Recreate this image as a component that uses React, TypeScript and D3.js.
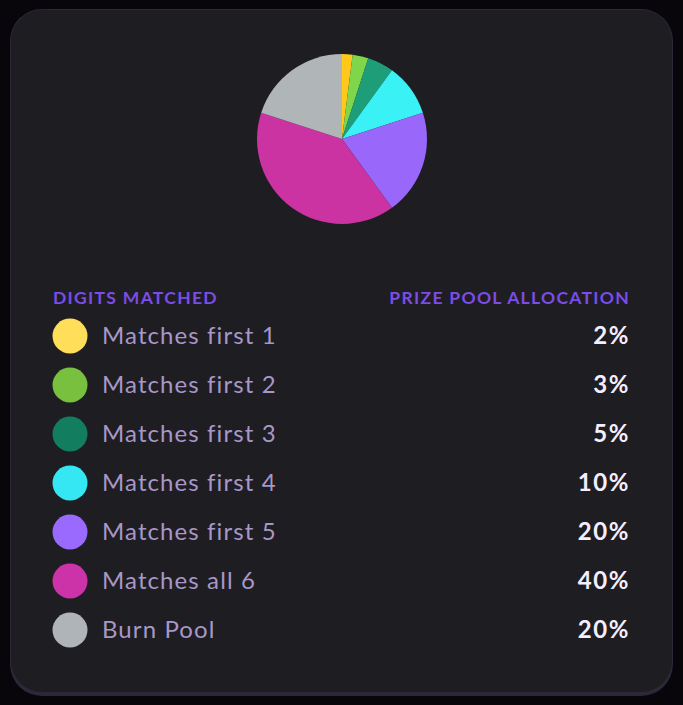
import * as d3 from 'd3';
import React, { useEffect, useRef } from 'react';

const labels = ['Matches first 1', 'Matches first 2', 'Matches first 3', 'Matches first 4', 'Matches first 5', 'Matches all 6', 'Burn Pool'];
const shares = [2, 3, 5, 10, 20, 40, 20];
const sliceColors = ['#FFC81A', '#7FD64B', '#1E9E78', '#3AF2F5', '#9A67FB', '#CB33A3', '#B0B5B8'];
const dotColors = ['#FFDF5A', '#79C03F', '#127D5F', '#35E6F3', '#9A6AFF', '#CC33A8', '#AEB4B7'];
const headers = ['DIGITS MATCHED', 'PRIZE POOL ALLOCATION'];

export default () => {
    const ref = useRef<any>();

    useEffect(() => {
        const width = 683;
        const height = 705;
        const font = 'Lato, "Noto Sans", sans-serif';

        const svg = d3.select<any, any>(ref.current)
            .attr('width', width)
            .attr('height', height)
            .style('position', 'absolute')
            .style('left', 0)
            .style('top', 0)
            .style('background', '#08060B');
        svg.selectAll('*').remove();

        // card, with a slightly heavier bottom edge
        svg.append('rect')
            .attr('x', 10).attr('y', 9).attr('width', 663).attr('height', 687)
            .attr('rx', 32).attr('fill', '#2B2838');
        svg.append('rect')
            .attr('x', 11).attr('y', 10).attr('width', 661).attr('height', 682)
            .attr('rx', 31).attr('fill', '#1E1D22');

        // pie
        const pie = d3.pie<number>().sort(null).value((d) => d);
        const arc = d3.arc<d3.PieArcDatum<number>>().innerRadius(0).outerRadius(85);
        svg.append('g')
            .attr('transform', 'translate(342,139)')
            .selectAll('path')
            .data(pie(shares))
            .join('path')
            .attr('d', arc)
            .attr('fill', (d, i) => sliceColors[i]);

        // headers
        svg.append('text')
            .attr('x', 53).attr('y', 304)
            .attr('font-family', font).attr('font-weight', 700).attr('font-size', 17.5)
            .attr('letter-spacing', 1.3)
            .attr('fill', '#7B4CE6')
            .text(headers[0]);
        svg.append('text')
            .attr('x', 630).attr('y', 304).attr('text-anchor', 'end')
            .attr('font-family', font).attr('font-weight', 700).attr('font-size', 17.5)
            .attr('letter-spacing', 1.3)
            .attr('fill', '#7B4CE6')
            .text(headers[1]);

        const y = d3.scalePoint<string>().domain(labels).range([336, 630]);

        const rows = svg.append('g').selectAll('g')
            .data(labels)
            .join('g')
            .attr('transform', (d) => `translate(0,${y(d)})`);

        rows.append('circle')
            .attr('cx', 70).attr('r', 17.5)
            .attr('fill', (d, i) => dotColors[i]);
        rows.append('text')
            .attr('x', 102).attr('y', 8)
            .attr('font-family', font).attr('font-size', 24)
            .attr('letter-spacing', 1.1)
            .attr('fill', '#A797C8')
            .text((d) => d);
        rows.append('text')
            .attr('x', 630).attr('y', 8).attr('text-anchor', 'end')
            .attr('font-family', font).attr('font-weight', 700).attr('font-size', 24)
            .attr('letter-spacing', 1.6)
            .attr('fill', '#F4EEFF')
            .text((d, i) => `${shares[i]}%`);
    }, []);

    return <svg ref={ref}></svg>;
};
